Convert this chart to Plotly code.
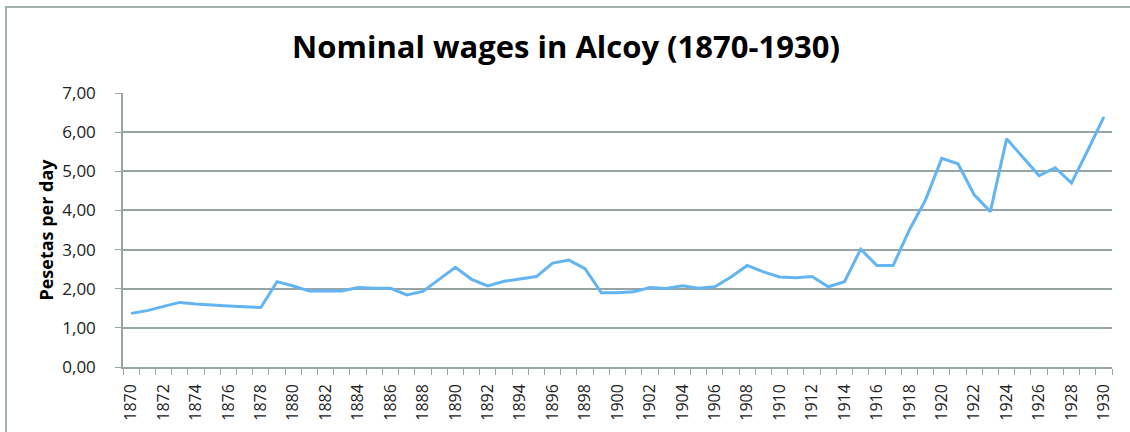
import plotly.graph_objects as go

years = list(range(1870, 1931))
wages = [
    1.37, 1.44, 1.55, 1.65, 1.61, 1.58, 1.56, 1.54, 1.52, 2.18,
    2.07, 1.94, 1.94, 1.94, 2.03, 2.01, 2.01, 1.84, 1.93, 2.24,
    2.545, 2.24, 2.07, 2.19, 2.255, 2.31, 2.655, 2.73, 2.51, 1.895,
    1.90, 1.92, 2.03, 2.005, 2.075, 2.015, 2.05, 2.30, 2.595, 2.43,
    2.30, 2.28, 2.31, 2.05, 2.18, 3.01, 2.59, 2.59, 3.50, 4.27,
    5.33, 5.19, 4.40, 3.97, 5.83, 5.36, 4.89, 5.09, 4.70, 5.53,
    6.39,
]
label_years = list(range(1870, 1931, 2))
y_ticks = [0, 1, 2, 3, 4, 5, 6, 7]

title_text = "Nominal wages in Alcoy (1870-1930)"
y_title = "Pesetas per day"

GRID = "#97A4A4"
FONT = "Open Sans"

fig = go.Figure()
fig.add_trace(go.Scatter(
    x=years, y=wages, mode="lines",
    line=dict(color="#62B4F3", width=3),
    showlegend=False,
))

W, H = 1130, 432
L, R, T, B = 123, 18, 93, 65
pw, ph = W - L - R, H - T - B

def px_x(p):
    return (p - L) / pw

def px_y(p):
    return (H - B - p) / ph

# outer frame (chart area border)
fig.add_shape(type="rect", xref="paper", yref="paper",
              x0=px_x(6), x1=px_x(W + 20), y0=px_y(H + 20), y1=px_y(7),
              line=dict(color="#A3B0B0", width=2), layer="below")

fig.update_layout(
    width=W, height=H,
    margin=dict(l=L, r=R, t=T, b=B, autoexpand=False),
    paper_bgcolor="white", plot_bgcolor="white",
    separators=",.",
    title=dict(text="<b>" + title_text + "</b>", x=566 / W, xref="container",
               xanchor="center", y=1 - 47 / H, yref="container", yanchor="middle",
               font=dict(family=FONT, size=31, color="black")),
    font=dict(family=FONT, color="black"),
)

fig.update_xaxes(
    automargin=False,
    range=[1869.5, 1930.5],
    tickmode="array", tickvals=label_years, ticktext=[str(y) for y in label_years],
    tickangle=-90, tickfont=dict(size=16, family=FONT, color="#222"),
    ticks="", showgrid=False, zeroline=False,
    showline=True, linecolor=GRID, linewidth=1.5,
    ticklabelstandoff=9,
    minor=dict(tickmode="linear", tick0=1869.5, dtick=1, ticks="outside",
               ticklen=6, tickcolor=GRID, tickwidth=1.2, showgrid=False),
)

fig.update_yaxes(
    automargin=False,
    range=[0, 7], tickmode="array", tickvals=y_ticks,
    tickformat=".2f", tickfont=dict(size=17, family=FONT, color="#222"),
    showgrid=True, gridcolor=GRID, gridwidth=1.5,
    zeroline=False, showline=True, linecolor=GRID, linewidth=1.5,
    ticks="outside", ticklen=6, tickcolor=GRID, tickwidth=1.2,
    ticklabelstandoff=16,
    title=dict(text="<b>" + y_title + "</b>", standoff=4,
               font=dict(family=FONT, size=18, color="black")),
)

fig.write_html("out.html",
               config={"displayModeBar": False},
               post_script="document.body.style.margin='0';document.body.style.overflow='hidden';")
